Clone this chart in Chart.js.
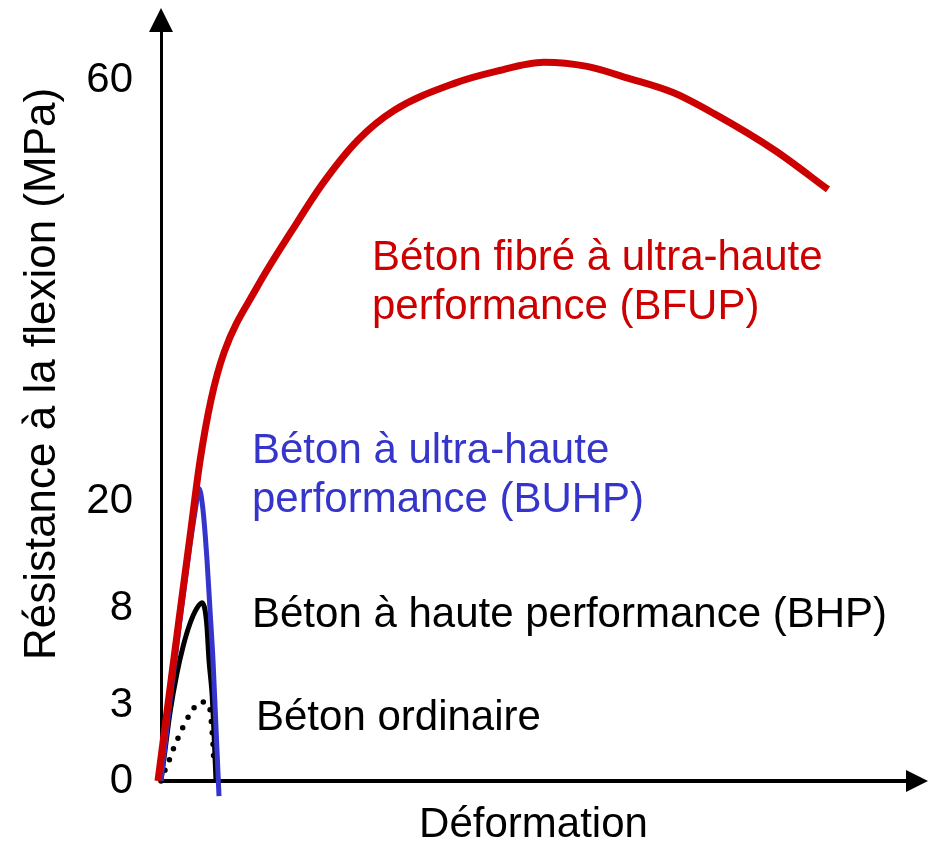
<!DOCTYPE html>
<html>
<head>
<meta charset="utf-8">
<script src="https://cdn.jsdelivr.net/npm/chart.js@4"></script>
<style>
  body { margin: 0; background: #fff; }
  #wrap { width: 936px; height: 851px; }
</style>
</head>
<body>
<div id="wrap"><canvas id="chart" width="936" height="851"></canvas></div>
<script>
// Data (x = deformation, arbitrary units; y = MPa)
const redX = [-0.3, 0.7, 1.8, 2.9, 3.9, 5.0, 6.3, 9.6, 13.1, 16.2, 19.7, 23.3, 29.4, 33.4, 38.3, 42.6, 46.6, 51.2, 55.3, 61.4, 66.7];
const redY = [0, 3.05, 7.4, 16.0, 23.8, 29.6, 34.1, 40.3, 45.7, 50.2, 54.3, 57.1, 59.7, 60.8, 61.7, 61.3, 60.2, 58.8, 56.8, 53.3, 49.6];

const blueX = [0, 0.9, 1.9, 2.9, 3.5, 3.8, 4.2, 4.6, 4.9, 5.2, 5.5, 5.8];
const blueY = [0, 3.2, 7.4, 15.1, 19.5, 21.2, 19.0, 13.4, 7.9, 5.3, 2.1, -0.6];

const bhpX = [0, 0.4, 0.9, 1.6, 2.2, 2.9, 3.6, 4.1, 4.4, 4.6, 4.8, 5.1, 5.3, 5.5];
const bhpY = [0, 1.2, 2.7, 4.65, 6.0, 7.2, 8.0, 8.6, 7.9, 7.0, 5.3, 3.6, 1.9, 0];

const ordX = [0, 0.4, 0.9, 1.3, 1.8, 2.3, 2.9, 3.6, 4.1, 4.6, 4.97, 5.07, 5.17, 5.23, 5.3];
const ordY = [0, 0.43, 0.9, 1.33, 1.78, 2.21, 2.64, 3.04, 3.15, 3.09, 2.64, 2.14, 1.66, 1.22, 0.6];

const yTicks = [0, 3, 8, 20, 60];
const seriesNames = ['Béton fibré à ultra-haute performance (BFUP)', 'Béton à ultra-haute performance (BUHP)', 'Béton à haute performance (BHP)', 'Béton ordinaire'];
const xTitle = 'Déformation';
const yTitle = 'Résistance à la flexion (MPa)';

const RED = '#cc0000';
const BLUE = '#3535cc';
const FONT = "'Liberation Sans', Arial, Helvetica, sans-serif";

const pts = (xs, ys) => xs.map((x, i) => ({ x: x, y: ys[i] }));

// schematic y axis: each tick gets its own spacing (piecewise linear)
class StepScale extends Chart.LinearScale {
  _frac(value) {
    const v = this.options.breakValues, f = this.options.breakFracs;
    let i = 1;
    while (i < v.length - 1 && value > v[i]) i++;
    return f[i - 1] + (value - v[i - 1]) / (v[i] - v[i - 1]) * (f[i] - f[i - 1]);
  }
  getPixelForValue(value) {
    return this.bottom - this._frac(value) * (this.bottom - this.top);
  }
  getValueForPixel(pixel) {
    const v = this.options.breakValues, f = this.options.breakFracs;
    const fr = (this.bottom - pixel) / (this.bottom - this.top);
    let i = 1;
    while (i < f.length - 1 && fr > f[i]) i++;
    return v[i - 1] + (fr - f[i - 1]) / (f[i] - f[i - 1]) * (v[i] - v[i - 1]);
  }
}
StepScale.id = 'step';
StepScale.defaults = {};
Chart.register(StepScale);

// labels, y title and arrow heads
const extras = {
  id: 'extras',
  afterDraw(chart, args, opts) {
    const ctx = chart.ctx;
    const xs = chart.scales.x, ys = chart.scales.y;
    const a = chart.chartArea;
    ctx.save();
    ctx.fillStyle = '#000';
    // arrow heads
    ctx.beginPath();
    ctx.moveTo(a.left - 12, a.top);
    ctx.lineTo(a.left + 12, a.top);
    ctx.lineTo(a.left, a.top - 24);
    ctx.closePath();
    ctx.fill();
    ctx.beginPath();
    ctx.moveTo(a.right, a.bottom - 11);
    ctx.lineTo(a.right, a.bottom + 11);
    ctx.lineTo(a.right + 22, a.bottom);
    ctx.closePath();
    ctx.fill();

    ctx.font = '42px ' + FONT;
    ctx.textBaseline = 'alphabetic';
    ctx.textAlign = 'left';
    opts.notes.forEach(n => {
      ctx.fillStyle = n.color;
      const px = xs.getPixelForValue(n.x);
      const py = ys.getPixelForValue(n.y);
      n.lines.forEach((t, i) => ctx.fillText(t, px, py + i * 49));
    });

    ctx.fillStyle = '#000';
    ctx.font = '44px ' + FONT;
    ctx.translate(43, 374);
    ctx.rotate(-Math.PI / 2);
    ctx.textAlign = 'center';
    ctx.textBaseline = 'middle';
    ctx.fillText(yTitle, 0, 0);
    ctx.restore();
  }
};

Chart.defaults.font.family = FONT;
Chart.defaults.color = '#000';

new Chart(document.getElementById('chart'), {
  type: 'line',
  data: {
    datasets: [
      { label: seriesNames[0], data: pts(redX, redY), borderColor: RED, borderWidth: 7 },
      { label: seriesNames[1], data: pts(blueX, blueY), borderColor: BLUE, borderWidth: 5 },
      { label: seriesNames[2], data: pts(bhpX, bhpY), borderColor: '#000', borderWidth: 5 },
      { label: seriesNames[3], data: pts(ordX, ordY), borderColor: '#000', borderWidth: 5.5,
        borderDash: [0, 11.5], borderCapStyle: 'round' }
    ]
  },
  options: {
    responsive: false,
    animation: false,
    layout: { padding: { top: 32, right: 30, left: 0, bottom: 0 } },
    elements: {
      point: { radius: 0 },
      line: { cubicInterpolationMode: 'monotone', fill: false }
    },
    datasets: { line: { clip: false } },
    plugins: {
      legend: { display: false },
      tooltip: { enabled: false },
      extras: {
        notes: [
          { lines: ['Béton fibré à ultra-haute', 'performance (BFUP)'], color: RED, x: 21.1, y: 41.9 },
          { lines: ['Béton à ultra-haute', 'performance (BUHP)'], color: BLUE, x: 9.1, y: 23.6 },
          { lines: ['Béton à haute performance (BHP)'], color: '#000', x: 9.1, y: 7.0 },
          { lines: ['Béton ordinaire'], color: '#000', x: 9.5, y: 2.0 }
        ]
      }
    },
    scales: {
      x: {
        type: 'linear',
        min: 0,
        max: 74.5,
        grid: { display: false, drawTicks: false },
        border: { display: true, color: '#000', width: 4 },
        ticks: { display: false },
        title: { display: true, text: xTitle, font: { size: 42 }, padding: 0 },
        afterFit: s => { s.height = 70; s.paddingLeft = 0; s.paddingRight = 0; }
      },
      y: {
        type: 'step',
        min: -1,
        max: 64.6,
        breakValues: [0, 3, 8, 20, 60, 64.6],
        breakFracs: [0, 0.1015, 0.231, 0.3738, 0.936, 1],
        grid: { display: false, drawTicks: false },
        border: { display: true, color: '#000', width: 3 },
        ticks: { font: { size: 42 }, padding: 28, autoSkip: false },
        afterBuildTicks: s => { s.ticks = yTicks.map(v => ({ value: v })); },
        afterFit: s => { s.width = 161; s.paddingTop = 0; s.paddingBottom = 0; }
      }
    }
  },
  plugins: [extras]
});
</script>
</body>
</html>
